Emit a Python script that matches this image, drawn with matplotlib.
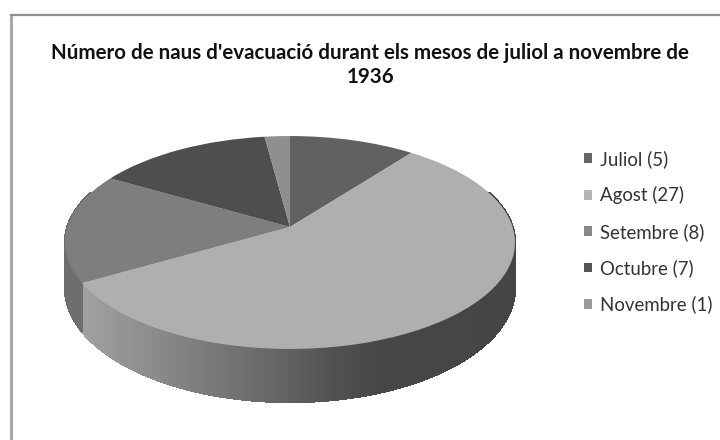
import numpy as np
import matplotlib
matplotlib.use("Agg")
import matplotlib.pyplot as plt
from matplotlib.patches import Rectangle
from matplotlib.transforms import Transform

plt.rcParams['font.family'] = ['Lato', 'DejaVu Sans']

months = ["Juliol", "Agost", "Setembre", "Octubre", "Novembre"]
ships = [5, 27, 8, 7, 1]
slice_colors = ["#616161", "#afafaf", "#7e7e7e", "#4e4e4e", "#8f8f8f"]
legend_colors = ["#666666", "#b5b5b5", "#888888", "#555555", "#999999"]
title = "Número de naus d'evacuació durant els mesos de juliol a novembre de\n1936"

# pie is drawn flat and then tilted with a perspective map, axes are in pixels
cx, k, sx = 290, 0.1455, 222.6
top_y0, top_c = 227, 104.2
low_y0, low_c = 271.4, 111.6


class Tilt(Transform):
    input_dims = 2
    output_dims = 2

    def transform_non_affine(self, xy):
        xy = np.asarray(xy)
        w = 1 + k * xy[:, 1]
        return np.column_stack([cx + sx * xy[:, 0] / w, top_y0 - top_c * xy[:, 1] / w])


def rim(a, y0, c):
    x = np.sin(a)
    y = np.cos(a)
    w = 1 + k * y
    return cx + sx * x / w, y0 - c * y / w


def wall_grey(x):
    return np.interp(x, [82, 140, 207, 273, 340, 373, 510], [0.63, 0.56, 0.48, 0.40, 0.31, 0.28, 0.27])


fig = plt.figure(figsize=(7.2, 4.4), dpi=100)
ax = fig.add_axes([0, 0, 1, 1])

wedges, _ = ax.pie(ships, startangle=90, counterclock=False, colors=slice_colors,
                   wedgeprops={"linewidth": 0, "zorder": 3})
tilt = Tilt()
for w in wedges:
    w.set_transform(tilt + ax.transData)
    w.set_clip_on(False)

ax.set_aspect("auto")
ax.set_xlim(0, 720)
ax.set_ylim(440, 0)
ax.axis("off")

# side wall of the pie, one thin strip per step round the rim
split = np.deg2rad(360 * sum(ships[:2]) / sum(ships))
steps = np.deg2rad(np.arange(70, 291, 1.0))
for a0, a1 in zip(steps[:-1], steps[1:]):
    x0, y0 = rim(a0, top_y0, top_c)
    x1, y1 = rim(a1, top_y0, top_c)
    x2, y2 = rim(a1, low_y0, low_c)
    x3, y3 = rim(a0, low_y0, low_c)
    g = wall_grey((x0 + x1) / 2) if a0 < split else 0.43
    ax.fill([x0, x1, x2, x3], [y0, y1, y2, y3], color=str(g), lw=1.0, zorder=2, antialiased=False)

# only the top and left sides of the frame are in the picture
ax.plot([11, 11], [440, 15.5], color="#a8a8a8", lw=2.2, solid_capstyle="butt")
ax.plot([10, 720], [15.5, 15.5], color="#8e8e8e", lw=1.6, solid_capstyle="butt")

ax.text(370, 65, title, ha="center", va="center", fontsize=14.8, fontweight="bold",
        color="#111111", linespacing=1.3)

handles = [Rectangle((0, 0), 1, 1, fc=c, lw=0) for c in legend_colors]
labels = [f"{m} ({n})" for m, n in zip(months, ships)]
ax.legend(handles, labels, loc="upper left", bbox_to_anchor=(584 / 720, 1 - 150 / 440),
          frameon=False, fontsize=13.4, labelcolor="#333333", handlelength=0.43, handleheight=0.43,
          handletextpad=0.43, labelspacing=0.99, borderaxespad=0, borderpad=0)

fig.savefig("out.png", dpi=100)
